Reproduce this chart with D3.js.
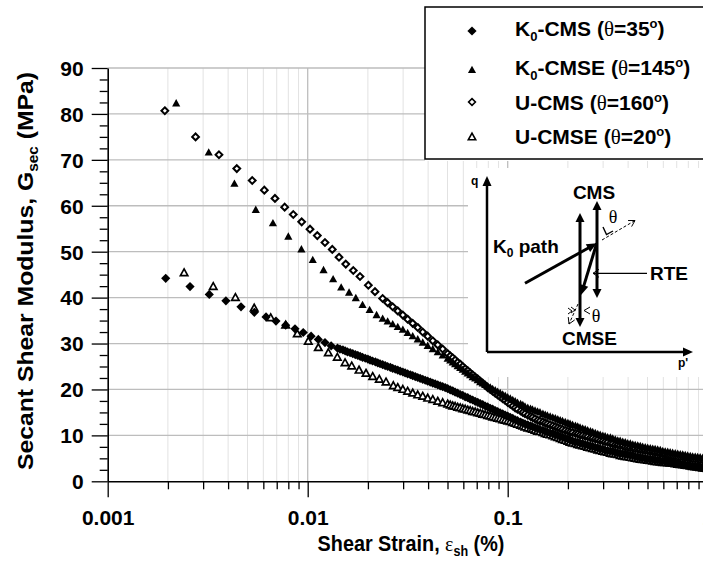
<!DOCTYPE html>
<html>
<head>
<meta charset="utf-8">
<style>
    html, body {
        margin: 0;
        padding: 0;
        background: #fff;
    }

    svg {
        display: block;
    }

    text {
        font-family: "Liberation Sans", Arial, sans-serif;
        font-weight: bold;
        fill: #000;
    }

    .greek {
        font-family: "Liberation Serif", "Times New Roman", serif;
        font-weight: normal;
    }
</style>
</head>
<body>
<svg id="chart" width="703" height="561"></svg>

<script src="https://d3js.org/d3.v7.min.js"></script>
<script>
    "use strict";

    // ---- data: [shear strain (%), Gsec (MPa)] ----
    const k0Cms = [
        [0.00195, 44.2], [0.00258, 42.4], [0.00322, 40.7], [0.0039, 39.3], [0.00464, 38.0], [0.00541, 36.8],
        [0.00619, 35.8], [0.00694, 34.9], [0.00776, 34.0], [0.00864, 33.2], [0.0095, 32.4], [0.0104, 31.6],
        [0.0113, 30.9], [0.0122, 30.2], [0.0131, 29.5], [0.0141, 29.0], [0.0145, 28.8], [0.0150, 28.6],
        [0.0154, 28.4], [0.0158, 28.2], [0.0163, 28.0], [0.0168, 27.8], [0.0173, 27.6], [0.0178, 27.4],
        [0.0183, 27.2], [0.0188, 27.0], [0.0194, 26.8], [0.0200, 26.6], [0.0205, 26.4], [0.0211, 26.2],
        [0.0218, 26.0], [0.0224, 25.8], [0.0230, 25.6], [0.0237, 25.4], [0.0244, 25.2], [0.0251, 25.0],
        [0.0259, 24.8], [0.0266, 24.6], [0.0274, 24.4], [0.0282, 24.2], [0.0290, 24.0], [0.0299, 23.8],
        [0.0307, 23.6], [0.0316, 23.4], [0.0326, 23.2], [0.0335, 23.0], [0.0345, 22.8], [0.0355, 22.6],
        [0.0365, 22.4], [0.0376, 22.2], [0.0387, 22.0], [0.0398, 21.8], [0.0410, 21.6], [0.0422, 21.4],
        [0.0434, 21.2], [0.0447, 21.0], [0.0460, 20.8], [0.0473, 20.6], [0.0487, 20.4], [0.0501, 20.2],
        [0.0516, 19.9], [0.0531, 19.7], [0.0546, 19.4], [0.0562, 19.2], [0.0579, 18.9], [0.0596, 18.7],
        [0.0613, 18.4], [0.0631, 18.2], [0.0649, 17.9], [0.0668, 17.7], [0.0688, 17.4], [0.0708, 17.2],
        [0.0729, 16.9], [0.0750, 16.7], [0.0772, 16.4], [0.0794, 16.2], [0.0818, 15.9], [0.0841, 15.7],
        [0.0866, 15.4], [0.0891, 15.2], [0.0917, 14.9], [0.0944, 14.7], [0.0972, 14.4], [0.100, 14.2],
        [0.103, 13.9], [0.106, 13.7], [0.109, 13.4], [0.112, 13.2], [0.116, 12.9], [0.119, 12.7],
        [0.122, 12.5], [0.126, 12.3], [0.130, 12.1], [0.133, 11.9], [0.137, 11.7], [0.141, 11.5],
        [0.145, 11.3], [0.150, 11.1], [0.154, 10.9], [0.158, 10.7], [0.163, 10.5], [0.168, 10.4],
        [0.173, 10.2], [0.178, 10.0], [0.183, 9.8], [0.188, 9.6], [0.194, 9.4], [0.200, 9.2],
        [0.205, 9.0], [0.211, 8.8], [0.218, 8.6], [0.224, 8.5], [0.230, 8.3], [0.237, 8.2],
        [0.244, 8.0], [0.251, 7.9], [0.259, 7.7], [0.266, 7.6], [0.274, 7.4], [0.282, 7.3],
        [0.290, 7.1], [0.299, 7.0], [0.307, 6.8], [0.316, 6.7], [0.326, 6.6], [0.335, 6.5],
        [0.345, 6.3], [0.355, 6.2], [0.365, 6.1], [0.376, 6.0], [0.387, 5.9], [0.398, 5.8],
        [0.410, 5.7], [0.422, 5.6], [0.434, 5.4], [0.447, 5.3], [0.460, 5.2], [0.473, 5.1],
        [0.487, 5.0], [0.501, 4.9], [0.516, 4.85], [0.531, 4.75], [0.546, 4.65], [0.562, 4.6],
        [0.579, 4.5], [0.596, 4.45], [0.613, 4.4], [0.631, 4.3], [0.649, 4.2], [0.668, 4.1],
        [0.688, 4.0], [0.708, 3.9], [0.729, 3.8], [0.750, 3.7], [0.772, 3.6], [0.794, 3.5],
        [0.818, 3.4], [0.841, 3.3], [0.866, 3.2], [0.891, 3.2], [0.917, 3.1], [0.944, 3.0],
        [0.972, 2.9], [1.00, 2.8]
    ];

    const k0Cmse = [
        [0.0022, 82.3], [0.0032, 71.6], [0.0043, 64.8], [0.0055, 59.1], [0.0067, 56.2], [0.0080, 53.3],
        [0.0093, 50.5], [0.0106, 48.2], [0.0120, 46.0], [0.0134, 44.0], [0.0147, 42.2], [0.0161, 41.1],
        [0.0174, 39.9], [0.0188, 38.4], [0.0204, 37.3], [0.0221, 36.2], [0.0237, 35.4], [0.0251, 34.8],
        [0.0266, 34.2], [0.0282, 33.6], [0.0299, 33.0], [0.0316, 32.3], [0.0335, 31.6], [0.0355, 30.9],
        [0.0376, 30.2], [0.0398, 29.5], [0.0422, 28.8], [0.0447, 28.1], [0.0473, 27.4], [0.0501, 26.7],
        [0.0516, 26.3], [0.0531, 25.9], [0.0546, 25.5], [0.0562, 25.1], [0.0579, 24.7], [0.0596, 24.3],
        [0.0613, 23.9], [0.0631, 23.5], [0.0649, 23.1], [0.0668, 22.7], [0.0688, 22.4], [0.0708, 22.0],
        [0.0729, 21.6], [0.0750, 21.3], [0.0772, 21.0], [0.0794, 20.7], [0.0818, 20.4], [0.0841, 20.1],
        [0.0866, 19.8], [0.0891, 19.5], [0.0917, 19.2], [0.0944, 18.9], [0.0972, 18.6], [0.100, 18.3],
        [0.103, 18.0], [0.106, 17.7], [0.109, 17.4], [0.112, 17.1], [0.116, 16.8], [0.119, 16.6],
        [0.122, 16.3], [0.126, 16.0], [0.130, 15.8], [0.133, 15.6], [0.137, 15.4], [0.141, 15.2],
        [0.145, 15.0], [0.150, 14.7], [0.154, 14.5], [0.158, 14.3], [0.163, 14.1], [0.168, 13.9],
        [0.173, 13.7], [0.178, 13.5], [0.183, 13.3], [0.188, 13.1], [0.194, 12.9], [0.200, 12.7],
        [0.205, 12.5], [0.211, 12.3], [0.218, 12.1], [0.224, 11.9], [0.230, 11.7], [0.237, 11.5],
        [0.244, 11.3], [0.251, 11.1], [0.259, 10.9], [0.266, 10.7], [0.274, 10.5], [0.282, 10.3],
        [0.290, 10.1], [0.299, 9.9], [0.307, 9.8], [0.316, 9.6], [0.326, 9.5], [0.335, 9.3],
        [0.345, 9.1], [0.355, 8.9], [0.365, 8.8], [0.376, 8.6], [0.387, 8.5], [0.398, 8.3],
        [0.410, 8.2], [0.422, 8.0], [0.434, 7.9], [0.447, 7.8], [0.460, 7.7], [0.473, 7.5],
        [0.487, 7.4], [0.501, 7.3], [0.516, 7.2], [0.531, 7.1], [0.546, 7.0], [0.562, 6.9],
        [0.579, 6.8], [0.596, 6.6], [0.613, 6.5], [0.631, 6.4], [0.649, 6.3], [0.668, 6.2],
        [0.688, 6.1], [0.708, 6.0], [0.729, 5.9], [0.750, 5.8], [0.772, 5.7], [0.794, 5.6],
        [0.818, 5.5], [0.841, 5.4], [0.866, 5.35], [0.891, 5.3], [0.917, 5.2], [0.944, 5.1],
        [0.972, 5.0], [1.00, 4.9]
    ];

    const uCms = [
        [0.00193, 80.7], [0.00275, 75.0], [0.0036, 71.1], [0.00442, 68.1], [0.00528, 65.5], [0.00607, 63.4],
        [0.00686, 61.6], [0.00767, 59.7], [0.00847, 58.1], [0.00933, 56.5], [0.01027, 54.9], [0.01117, 53.5],
        [0.0122, 52.0], [0.01327, 50.5], [0.01434, 48.8], [0.0155, 47.3], [0.0169, 45.9], [0.01826, 44.6],
        [0.0201, 42.7], [0.0217, 41.3], [0.0237, 39.8], [0.0251, 38.9], [0.0266, 38.0], [0.0282, 37.1],
        [0.0299, 36.2], [0.0316, 35.3], [0.0335, 34.4], [0.0355, 33.5], [0.0376, 32.5], [0.0398, 31.6],
        [0.0422, 30.6], [0.0447, 29.7], [0.0473, 28.8], [0.0501, 27.8], [0.0516, 27.3], [0.0531, 26.9],
        [0.0546, 26.4], [0.0562, 25.9], [0.0579, 25.5], [0.0596, 25.0], [0.0613, 24.5], [0.0631, 24.1],
        [0.0649, 23.6], [0.0668, 23.2], [0.0688, 22.7], [0.0708, 22.3], [0.0729, 21.8], [0.0750, 21.4],
        [0.0772, 20.9], [0.0794, 20.4], [0.0818, 20.0], [0.0841, 19.6], [0.0866, 19.2], [0.0891, 18.8],
        [0.0917, 18.4], [0.0944, 18.0], [0.0972, 17.6], [0.100, 17.2], [0.103, 16.8], [0.106, 16.4],
        [0.109, 16.0], [0.112, 15.7], [0.116, 15.3], [0.119, 15.0], [0.122, 14.7], [0.126, 14.4],
        [0.130, 14.1], [0.133, 13.9], [0.137, 13.6], [0.141, 13.3], [0.145, 13.1], [0.150, 12.9],
        [0.154, 12.7], [0.158, 12.5], [0.163, 12.3], [0.168, 12.1], [0.173, 11.9], [0.178, 11.7],
        [0.183, 11.5], [0.188, 11.3], [0.194, 11.1], [0.200, 10.9], [0.205, 10.7], [0.211, 10.6],
        [0.218, 10.4], [0.224, 10.3], [0.230, 10.1], [0.237, 10.0], [0.244, 9.8], [0.251, 9.7],
        [0.259, 9.5], [0.266, 9.4], [0.274, 9.2], [0.282, 9.1], [0.290, 8.9], [0.299, 8.8],
        [0.307, 8.6], [0.316, 8.5], [0.326, 8.3], [0.335, 8.2], [0.345, 8.0], [0.355, 7.9],
        [0.365, 7.8], [0.376, 7.7], [0.387, 7.5], [0.398, 7.4], [0.410, 7.3], [0.422, 7.2],
        [0.434, 7.1], [0.447, 7.0], [0.460, 6.9], [0.473, 6.8], [0.487, 6.7], [0.501, 6.6],
        [0.516, 6.5], [0.531, 6.4], [0.546, 6.3], [0.562, 6.2], [0.579, 6.1], [0.596, 6.0],
        [0.613, 5.9], [0.631, 5.8], [0.649, 5.7], [0.668, 5.6], [0.688, 5.5], [0.708, 5.4],
        [0.729, 5.35], [0.750, 5.3], [0.772, 5.2], [0.794, 5.1], [0.818, 5.0], [0.841, 4.9],
        [0.866, 4.85], [0.891, 4.8], [0.917, 4.7], [0.944, 4.6], [0.972, 4.5], [1.00, 4.4]
    ];

    const uCmse = [
        [0.00241, 45.4], [0.00337, 42.4], [0.00435, 40.0], [0.0054, 37.7], [0.00653, 35.6], [0.00776, 34.0],
        [0.00887, 32.1], [0.01007, 30.5], [0.0113, 29.1], [0.01268, 28.0], [0.01406, 27.0], [0.01537, 25.8],
        [0.0166, 25.1], [0.01806, 24.2], [0.01957, 23.5], [0.02113, 22.8], [0.0228, 22.2], [0.02464, 21.6],
        [0.0268, 20.8], [0.0282, 20.4], [0.0299, 20.0], [0.0316, 19.6], [0.0335, 19.2], [0.0355, 18.8],
        [0.0376, 18.5], [0.0398, 18.1], [0.0422, 17.8], [0.0447, 17.4], [0.0473, 17.1], [0.0501, 16.8],
        [0.0516, 16.6], [0.0531, 16.4], [0.0546, 16.3], [0.0562, 16.1], [0.0579, 16.0], [0.0596, 15.8],
        [0.0613, 15.7], [0.0631, 15.5], [0.0649, 15.4], [0.0668, 15.2], [0.0688, 15.1], [0.0708, 14.9],
        [0.0729, 14.8], [0.0750, 14.6], [0.0772, 14.5], [0.0794, 14.3], [0.0818, 14.2], [0.0841, 14.0],
        [0.0866, 13.9], [0.0891, 13.7], [0.0917, 13.6], [0.0944, 13.4], [0.0972, 13.3], [0.100, 13.1],
        [0.103, 13.0], [0.106, 12.8], [0.109, 12.6], [0.112, 12.4], [0.116, 12.2], [0.119, 12.0],
        [0.122, 11.8], [0.126, 11.6], [0.130, 11.5], [0.133, 11.3], [0.137, 11.1], [0.141, 10.9],
        [0.145, 10.8], [0.150, 10.6], [0.154, 10.4], [0.158, 10.2], [0.163, 10.1], [0.168, 9.9],
        [0.173, 9.7], [0.178, 9.5], [0.183, 9.3], [0.188, 9.1], [0.194, 8.9], [0.200, 8.7],
        [0.205, 8.5], [0.211, 8.3], [0.218, 8.2], [0.224, 8.0], [0.230, 7.9], [0.237, 7.7],
        [0.244, 7.6], [0.251, 7.4], [0.259, 7.3], [0.266, 7.1], [0.274, 7.0], [0.282, 6.8],
        [0.290, 6.7], [0.299, 6.5], [0.307, 6.4], [0.316, 6.3], [0.326, 6.1], [0.335, 6.0],
        [0.345, 5.9], [0.355, 5.8], [0.365, 5.6], [0.376, 5.5], [0.387, 5.4], [0.398, 5.3],
        [0.410, 5.2], [0.422, 5.1], [0.434, 5.0], [0.447, 4.9], [0.460, 4.8], [0.473, 4.75],
        [0.487, 4.65], [0.501, 4.55], [0.516, 4.5], [0.531, 4.4], [0.546, 4.3], [0.562, 4.25],
        [0.579, 4.2], [0.596, 4.1], [0.613, 4.05], [0.631, 4.0], [0.649, 3.95], [0.668, 3.9],
        [0.688, 3.8], [0.708, 3.7], [0.729, 3.65], [0.750, 3.6], [0.772, 3.5], [0.794, 3.4],
        [0.818, 3.3], [0.841, 3.2], [0.866, 3.15], [0.891, 3.1], [0.917, 3.0], [0.944, 2.9],
        [0.972, 2.8], [1.00, 2.7]
    ];

    const seriesNames = ["K0-CMS", "K0-CMSE", "U-CMS", "U-CMSE"];
    const seriesAngles = ["35", "145", "160", "20"];

    const xTicks = [0.001, 0.01, 0.1, 1];
    const xTickLabels = ["0.001", "0.01", "0.1", "1"];
    const yTicks = [0, 10, 20, 30, 40, 50, 60, 70, 80, 90];

    // ---- marker shapes ----
    function diamond(r) {
        return "M0," + (-r) + "L" + r + ",0L0," + r + "L" + (-r) + ",0Z";
    }

    function triangle(r) {
        return "M0," + (-r) + "L" + (r * 0.95) + "," + (r * 0.72) + "L" + (-r * 0.95) + "," + (r * 0.72) + "Z";
    }

    const series = [
        {data: k0Cms, shape: diamond(4.6), fill: "#000", stroke: "none", sw: 0},
        {data: k0Cmse, shape: triangle(4.3), fill: "#000", stroke: "none", sw: 0},
        {data: uCms, shape: diamond(3.4), fill: "#fff", stroke: "#000", sw: 2},
        {data: uCmse, shape: triangle(3.9), fill: "#fff", stroke: "#000", sw: 1.7}
    ];
    // paint order of the point clouds (overlaps in the dense part)
    const drawOrder = [3, 0, 2, 1];

    const svg = d3.select("#chart");

    const x = d3.scaleLog().domain([0.001, 1]).range([107.7, 707.7]);
    const y = d3.scaleLinear().domain([0, 90]).range([481.3, 68]);
    const xl = x.range()[0], xr = x.range()[1];
    const yb = y.range()[0], yt = y.range()[1];

    function isDecade(t) {
        const l = Math.log10(t);
        return Math.abs(l - Math.round(l)) < 1e-6;
    }

    // ---- grid ----
    const grid = svg.append("g");
    grid.selectAll("line.minor")
        .data(x.ticks().filter(function (t) { return !isDecade(t); }))
        .enter().append("line")
        .attr("x1", function (d) { return x(d); })
        .attr("x2", function (d) { return x(d); })
        .attr("y1", yt).attr("y2", yb)
        .attr("stroke", "#e2e2e2").attr("stroke-width", 1);

    grid.selectAll("line.major")
        .data(xTicks.slice(1))
        .enter().append("line")
        .attr("x1", function (d) { return x(d); })
        .attr("x2", function (d) { return x(d); })
        .attr("y1", yt).attr("y2", yb)
        .attr("stroke", "#bdbdbd").attr("stroke-width", 1.3);

    grid.selectAll("line.h")
        .data(yTicks.slice(1))
        .enter().append("line")
        .attr("x1", xl).attr("x2", xr)
        .attr("y1", function (d) { return y(d); })
        .attr("y2", function (d) { return y(d); })
        .attr("stroke", "#bdbdbd").attr("stroke-width", 1.3);

    // white panels behind legend and inset sketch
    svg.append("rect").attr("x", 468).attr("y", 168).attr("width", 240).attr("height", 209).attr("fill", "#fff");
    svg.append("rect").attr("x", 425).attr("y", 7).attr("width", 300).attr("height", 154).attr("fill", "#fff");

    // ---- axes ----
    const yMinor = d3.range(0, 90.1, 2.5).filter(function (v) { return v % 10 !== 0; });
    svg.append("g")
        .attr("transform", "translate(" + xl + ",0)")
        .call(d3.axisLeft(y).tickValues(yMinor).tickSize(8).tickFormat("").tickSizeOuter(0))
        .call(function (g) { g.select(".domain").remove(); })
        .selectAll("line").attr("stroke-width", 1.3);

    const yAxisG = svg.append("g")
        .attr("transform", "translate(" + xl + ",0)")
        .call(d3.axisLeft(y).tickValues(yTicks).tickSize(16).tickPadding(8).tickSizeOuter(0));
    yAxisG.select(".domain").attr("stroke-width", 1.6);
    yAxisG.selectAll("line").attr("stroke-width", 1.3);
    yAxisG.selectAll("text").attr("font-size", 21).attr("dy", "0.35em");

    svg.append("g")
        .attr("transform", "translate(0," + yb + ")")
        .call(d3.axisBottom(x).tickValues(x.ticks().filter(function (t) { return !isDecade(t); }))
            .tickSize(8).tickFormat("").tickSizeOuter(0))
        .call(function (g) { g.select(".domain").remove(); })
        .selectAll("line").attr("stroke-width", 1.3);

    const xAxisG = svg.append("g")
        .attr("transform", "translate(0," + yb + ")")
        .call(d3.axisBottom(x).tickValues(xTicks)
            .tickFormat(function (d, i) { return xTickLabels[i]; })
            .tickSize(16).tickSizeOuter(0));
    xAxisG.select(".domain").attr("stroke-width", 1.6);
    xAxisG.selectAll("line").attr("stroke-width", 1.3);
    xAxisG.selectAll("text").attr("font-size", 21).attr("y", 44).attr("dy", null);

    // ---- axis titles (the source figure was stretched a little, hence the scales) ----
    const xTitle = svg.append("text")
        .attr("transform", "translate(411,551) scale(0.9,1)")
        .attr("text-anchor", "middle")
        .attr("font-size", 22);
    xTitle.append("tspan").text("Shear Strain, ");
    xTitle.append("tspan").attr("class", "greek").text("\u03b5");
    xTitle.append("tspan").attr("font-size", 14).attr("dy", 5).text("sh");
    xTitle.append("tspan").attr("dy", -5).text(" (%)");

    const yTitle = svg.append("text")
        .attr("transform", "translate(33,271) rotate(-90) scale(1.1,1)")
        .attr("text-anchor", "middle")
        .attr("font-size", 22.5);
    yTitle.append("tspan").text("Secant Shear Modulus, G");
    yTitle.append("tspan").attr("font-size", 14).attr("dy", 5).text("sec");
    yTitle.append("tspan").attr("dy", -5).text(" (MPa)");

    // ---- data ----
    svg.append("clipPath").attr("id", "plot-clip")
        .append("rect").attr("x", xl).attr("y", 55).attr("width", xr - xl).attr("height", yb - 55 + 2);

    const plot = svg.append("g").attr("clip-path", "url(#plot-clip)");
    drawOrder.forEach(function (i) {
        const s = series[i];
        plot.append("g").selectAll("path")
            .data(s.data)
            .enter().append("path")
            .attr("transform", function (d) { return "translate(" + x(d[0]) + "," + y(d[1]) + ")"; })
            .attr("d", s.shape)
            .attr("fill", s.fill)
            .attr("stroke", s.stroke)
            .attr("stroke-width", s.sw);
    });

    // ---- legend ----
    const legend = svg.append("g");
    legend.append("rect")
        .attr("x", 425).attr("y", 7).attr("width", 300).attr("height", 152)
        .attr("fill", "none").attr("stroke", "#000").attr("stroke-width", 1.5);

    const legendMarkY = [31, 70, 102, 137];
    const legendTextY = [36, 75, 110, 144];

    series.forEach(function (s, i) {
        legend.append("path")
            .attr("transform", "translate(472," + legendMarkY[i] + ")")
            .attr("d", s.shape)
            .attr("fill", s.fill).attr("stroke", s.stroke).attr("stroke-width", Math.min(s.sw, 1.6));

        const t = legend.append("text").attr("x", 515).attr("y", legendTextY[i]).attr("font-size", 21);
        const name = seriesNames[i];
        if (name.indexOf("K0") === 0) {
            t.append("tspan").text("K");
            t.append("tspan").attr("font-size", 13).attr("dy", 5).text("0");
            t.append("tspan").attr("dy", -5).text(name.slice(2) + " (");
        } else {
            t.append("tspan").text(name + " (");
        }
        t.append("tspan").attr("class", "greek").text("\u03b8");
        t.append("tspan").text("=" + seriesAngles[i]);
        t.append("tspan").attr("font-size", 13).attr("dy", -8).text("o");
        t.append("tspan").attr("dy", 8).text(")");
    });

    // ---- inset stress-path sketch ----
    const inset = svg.append("g").attr("transform", "translate(487,352)");

    function head(g, bx, by, ux, uy, len, wid) {
        g.append("path")
            .attr("d", "M" + bx + "," + by +
                "L" + (bx - ux * len - uy * wid / 2) + "," + (by - uy * len + ux * wid / 2) +
                "L" + (bx - ux * len + uy * wid / 2) + "," + (by - uy * len - ux * wid / 2) + "Z")
            .attr("fill", "#000");
    }

    function arrow(g, ax, ay, bx, by, w, len, wid, both) {
        const L = Math.hypot(bx - ax, by - ay), ux = (bx - ax) / L, uy = (by - ay) / L;
        const s = both ? len * 0.8 : 0;
        g.append("line")
            .attr("x1", ax + ux * s).attr("y1", ay + uy * s)
            .attr("x2", bx - ux * len * 0.8).attr("y2", by - uy * len * 0.8)
            .attr("stroke", "#000").attr("stroke-width", w);
        head(g, bx, by, ux, uy, len, wid);
        if (both) head(g, ax, ay, -ux, -uy, len, wid);
    }

    function openArrow(g, ax, ay, bx, by, w, len, wid, dash) {
        const L = Math.hypot(bx - ax, by - ay), ux = (bx - ax) / L, uy = (by - ay) / L;
        g.append("line")
            .attr("x1", ax).attr("y1", ay).attr("x2", bx).attr("y2", by)
            .attr("stroke", "#000").attr("stroke-width", w)
            .attr("stroke-dasharray", dash || null);
        g.append("path")
            .attr("d", "M" + (bx - ux * len - uy * wid / 2) + "," + (by - uy * len + ux * wid / 2) +
                "L" + bx + "," + by +
                "L" + (bx - ux * len + uy * wid / 2) + "," + (by - uy * len - ux * wid / 2))
            .attr("fill", "none").attr("stroke", "#000").attr("stroke-width", 1);
    }

    arrow(inset, 0, 0, 0, -176, 2.5, 10, 9, false);
    arrow(inset, 0, 0, 206, 0, 2.5, 10, 9, false);
    arrow(inset, 110, -151, 110, -54, 3, 9, 9, true);
    arrow(inset, 93, -139, 93, -25, 3, 9, 9, true);
    arrow(inset, 38, -68.7, 109.7, -108.7, 3, 10, 9, false);
    arrow(inset, 109.7, -108.7, 94, -57, 3, 10, 9, false);
    openArrow(inset, 160, -78.7, 106, -78.7, 1.2, 6, 8);

    // dashed direction arrows and angle marks
    openArrow(inset, 115, -112, 148, -131.5, 1, 6, 7, "3,2");
    inset.append("path").attr("d", "M116,-125L119.5,-117.5L126,-121")
        .attr("fill", "none").attr("stroke", "#000").attr("stroke-width", 1.4);
    openArrow(inset, 91, -48, 82, -28, 1, 6, 7, "3,2");
    inset.append("path").attr("d", "M84,-45L88,-42L84,-39M81,-44L85,-41L81,-38")
        .attr("fill", "none").attr("stroke", "#000").attr("stroke-width", 1);
    inset.append("path").attr("d", "M103,-45L97,-41.5L103,-38")
        .attr("fill", "none").attr("stroke", "#000").attr("stroke-width", 1);

    inset.append("text").attr("class", "greek").attr("x", 126).attr("y", -129)
        .attr("text-anchor", "middle").attr("font-size", 18).attr("fill", "#222").text("\u03b8");
    inset.append("text").attr("class", "greek").attr("x", 109).attr("y", -30)
        .attr("text-anchor", "middle").attr("font-size", 18).attr("fill", "#222").text("\u03b8");

    inset.append("text").attr("x", 107).attr("y", -153).attr("text-anchor", "middle")
        .attr("font-size", 19).text("CMS");
    inset.append("text").attr("x", 102.5).attr("y", -7).attr("text-anchor", "middle")
        .attr("font-size", 19).text("CMSE");
    inset.append("text").attr("x", 163).attr("y", -72).attr("font-size", 19).text("RTE");

    const k0Label = inset.append("text").attr("x", 6).attr("y", -99).attr("font-size", 19);
    k0Label.append("tspan").text("K");
    k0Label.append("tspan").attr("font-size", 12).attr("dy", 4).text("0");
    k0Label.append("tspan").attr("dy", -4).text(" path");

    inset.append("text").attr("x", -16).attr("y", -167).attr("font-size", 12).text("q");
    inset.append("text").attr("x", 191).attr("y", 15).attr("font-size", 12).text("p'");
</script>
</body>
</html>
